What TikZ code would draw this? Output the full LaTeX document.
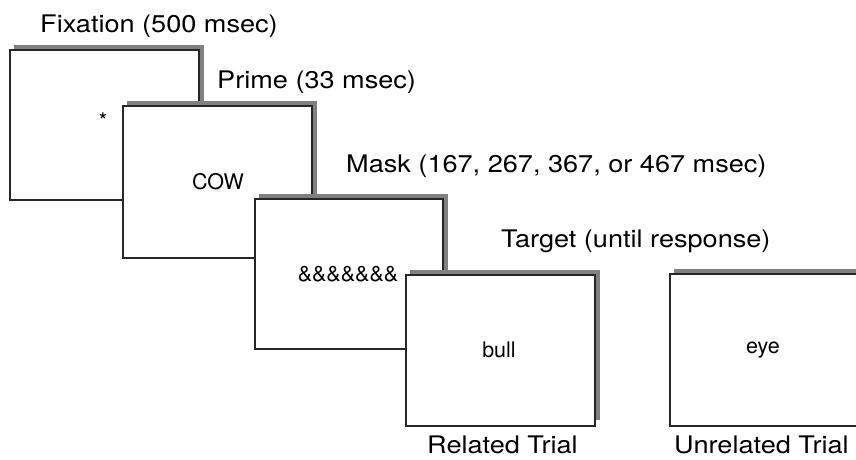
\documentclass[tikz,border=0pt]{standalone}
\usepackage{fontspec}
\setmainfont{TeX Gyre Heros}
\newfontfamily\labfont[FakeStretch=1.12]{TeX Gyre Heros}
\begin{document}
\begin{tikzpicture}[x=1pt,y=-1pt,
  screen/.style={draw=black!85,line width=1.9pt,fill=white},
  lab/.style={anchor=base west,inner sep=0pt,font=\labfont\fontsize{24.2}{27}\selectfont},
  word/.style={inner sep=0pt,font=\fontsize{21.5}{24}\selectfont}]
\useasboundingbox (0,0) rectangle (856,459);
\clip (0,0) rectangle (856,459);
% boxes: name/left/top/right/bottom
\foreach \n/\l/\t/\r/\b in {f/10/50/199/200, p/123/106/312/258, m/255/199/443/349, t/406/275/595/426, u/670/274/859/426}{
  \fill[black!50] (\l+4,\t-5) rectangle (\r+5,\b-6);
  \path[screen] (\l,\t) rectangle (\r,\b);
}
\node[word] (star) at (103,121) {*};
\node[word] (cow) at (218,182) {COW};
\node[word] (amp) at (348,274) {\&\&\&\&\&\&\&};
\node[word] (bull) at (499,350) {bull};
\node[word] (eye) at (763,350) {eye};
\node[lab] (fix) at (40,32) {Fixation (500 msec)};
\node[lab] (prime) at (217,88) {Prime (33 msec)};
\node[lab] (mask) at (346,172) {Mask (167, 267, 367, or 467 msec)};
\node[lab] (target) at (501,247) {Target (until response)};
\node[lab] (rel) at (427,453) {Related Trial};
\node[lab] (unrel) at (674,453) {Unrelated Trial};
\end{tikzpicture}
\end{document}
